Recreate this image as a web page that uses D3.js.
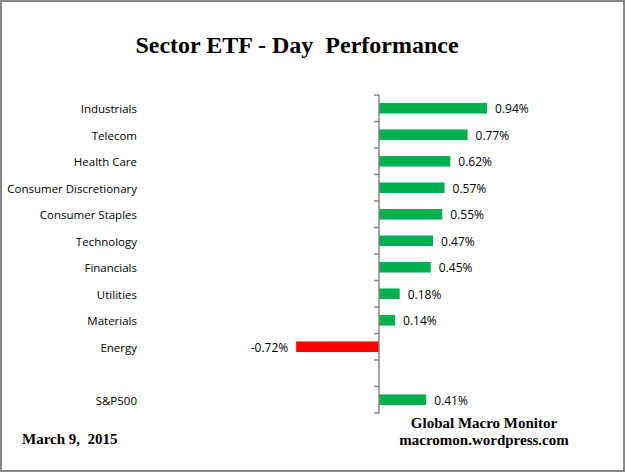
<!DOCTYPE html>
<html>
<head>
<meta charset="utf-8">
<script src="https://cdn.jsdelivr.net/npm/d3@7"></script>
<style>
  html, body { margin: 0; padding: 0; background: #fff; }
  svg { display: block; }
  text { white-space: pre; }
</style>
</head>
<body>
<svg id="chart" width="625" height="472"></svg>
<script>
const categories = ["Industrials", "Telecom", "Health Care", "Consumer Discretionary", "Consumer Staples",
  "Technology", "Financials", "Utilities", "Materials", "Energy", "", "S&P500"];
const values = [0.94, 0.77, 0.62, 0.57, 0.55, 0.47, 0.45, 0.18, 0.14, -0.72, null, 0.41];
const valueLabels = ["0.94%", "0.77%", "0.62%", "0.57%", "0.55%", "0.47%", "0.45%", "0.18%", "0.14%", "-0.72%", "", "0.41%"];
const titleText = "Sector ETF - Day  Performance";
const dateText = "March 9,  2015";
const credit = ["Global Macro Monitor", "macromon.wordpress.com"];

const svg = d3.select("#chart");
const W = 625, H = 472;

svg.append("rect").attr("x", 1).attr("y", 1).attr("width", W - 2).attr("height", H - 2)
  .attr("fill", "#fff").attr("stroke", "#868686").attr("stroke-width", 2);

const x = d3.scaleLinear().domain([-1, 1]).range([264, 494]);
const y = d3.scaleBand().domain(d3.range(categories.length)).range([95, 413]).paddingInner(0.6).paddingOuter(0.3);

// bars
const data = categories.map((c, i) => ({ c, v: values[i], l: valueLabels[i], i }));
svg.append("g").selectAll("rect").data(data.filter(d => d.v !== null)).join("rect")
  .attr("x", d => x(Math.min(0, d.v)))
  .attr("width", d => Math.abs(x(d.v) - x(0)))
  .attr("y", d => y(d.i))
  .attr("height", y.bandwidth())
  .attr("fill", d => d.v < 0 ? "#FF0000" : "#00B050");

// axis at zero
const axisG = svg.append("g").attr("stroke", "#868686").attr("stroke-width", 1.5);
axisG.append("line").attr("x1", x(0)).attr("x2", x(0)).attr("y1", 95).attr("y2", 413);
const tickYs = d3.range(categories.length + 1).map(k => 95 + k * (318 / categories.length));
axisG.selectAll("line.t").data(tickYs).join("line").attr("class", "t")
  .attr("x1", x(0) - 5).attr("x2", x(0)).attr("y1", d => d).attr("y2", d => d);

// category labels
svg.append("g").selectAll("text").data(data).join("text")
  .attr("x", 137).attr("y", d => y(d.i) + y.bandwidth() / 2 + 1)
  .attr("dy", "0.35em").attr("text-anchor", "end")
  .attr("font-family", "'Open Sans', sans-serif").attr("font-size", 11.5).attr("fill", "#000")
  .text(d => d.c);

// value labels
svg.append("g").selectAll("text").data(data.filter(d => d.v !== null)).join("text")
  .attr("x", d => d.v < 0 ? x(d.v) - 8 : x(d.v) + 8)
  .attr("y", d => y(d.i) + y.bandwidth() / 2 + 1)
  .attr("dy", "0.35em").attr("text-anchor", d => d.v < 0 ? "end" : "start")
  .attr("font-family", "'Open Sans', sans-serif").attr("font-size", 12).attr("fill", "#000")
  .text(d => d.l);

// title
svg.append("text").attr("x", 297).attr("y", 53).attr("text-anchor", "middle")
  .attr("font-family", "'Liberation Serif', 'Times New Roman', serif").attr("font-weight", "bold")
  .attr("font-size", 24).text(titleText);

svg.append("text").attr("x", 22).attr("y", 444)
  .attr("font-family", "'Liberation Serif', serif").attr("font-weight", "bold")
  .attr("font-size", 15).text(dateText);

svg.append("g").selectAll("text").data(credit).join("text")
  .attr("x", 484).attr("y", (d, i) => 428 + i * 17).attr("text-anchor", "middle")
  .attr("font-family", "'Liberation Serif', serif").attr("font-weight", "bold")
  .attr("font-size", 15).text(d => d);
</script>
</body>
</html>
